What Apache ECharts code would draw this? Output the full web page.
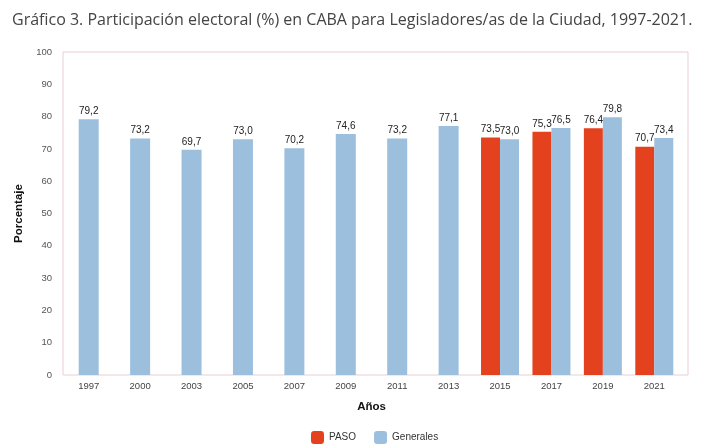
<!DOCTYPE html>
<html>
<head>
<meta charset="utf-8">
<script src="https://cdn.jsdelivr.net/npm/echarts@6/dist/echarts.min.js"></script>
<style>
  html, body { margin: 0; padding: 0; background: #fff; }
  #chart { width: 716px; height: 448px; }
</style>
</head>
<body>
<div id="chart"></div>
<script>
// datos
const years = ['1997', '2000', '2003', '2005', '2007', '2009', '2011', '2013', '2015', '2017', '2019', '2021']
const generales = [79.2, 73.2, 69.7, 73.0, 70.2, 74.6, 73.2, 77.1, 73.0, 76.5, 79.8, 73.4]
const paso = [null, null, null, null, null, null, null, null, 73.5, 75.3, 76.4, 70.7]
const yTicks = [0, 10, 20, 30, 40, 50, 60, 70, 80, 90, 100]

const RED = '#e4411f'
const BLUE = '#9cbfde'

// años sin PASO: barra sola centrada; años con PASO: par de barras
const genSolo = generales.map((v, i) => (paso[i] == null ? v : null))
const genPar = generales.map((v, i) => (paso[i] == null ? null : v))

const fmt = p => p.value.toFixed(1).replace('.', ',')
const lbl = {
  show: true,
  position: 'top',
  distance: 3,
  formatter: fmt,
  color: '#222',
  fontSize: 10,
  fontFamily: 'Arial, "Liberation Sans", sans-serif'
}

const chart = echarts.init(document.getElementById('chart'))
chart.setOption({
  animation: false,
  title: {
    text: 'Gráfico 3. Participación electoral (%) en CABA para Legisladores/as de la Ciudad, 1997-2021.',
    left: 7,
    top: 7,
    textStyle: { fontFamily: '"Open Sans", sans-serif', fontSize: 16, fontWeight: 'normal', color: '#444' }
  },
  legend: {
    data: ['PASO', 'Generales'],
    left: 306,
    top: 426,
    itemWidth: 13,
    itemHeight: 13,
    itemGap: 18,
    textStyle: { fontFamily: 'Arial, sans-serif', fontSize: 10, color: '#333' }
  },
  graphic: [
    {
      type: 'rect',
      shape: { x: 63, y: 52, width: 625, height: 323 },
      style: { fill: 'none', stroke: '#e9cfd3', lineWidth: 1 },
      z: 0
    }
  ],
  grid: { left: 63, top: 52, width: 617, height: 323 },
  xAxis: [
    {
      type: 'category',
      data: years,
      axisLine: { show: false },
      axisTick: { show: false },
      axisLabel: { color: '#444', fontSize: 9.5, fontFamily: 'Arial, sans-serif', margin: 6 },
      name: 'Años',
      nameLocation: 'middle',
      nameGap: 26,
      nameTextStyle: { fontWeight: 'bold', fontSize: 11.5, color: '#111', fontFamily: 'Arial, sans-serif' }
    },
    {
      type: 'category',
      data: years,
      show: false,
      position: 'bottom'
    }
  ],
  yAxis: {
    type: 'value',
    min: yTicks[0],
    max: yTicks[yTicks.length - 1],
    interval: 10,
    axisLine: { show: false },
    axisTick: { show: false },
    splitLine: { show: false },
    axisLabel: { color: '#555', fontSize: 9.5, fontFamily: 'Arial, sans-serif', margin: 11 },
    name: 'Porcentaje',
    nameLocation: 'middle',
    nameGap: 32,
    nameTextStyle: { fontWeight: 'bold', fontSize: 11.5, color: '#111', fontFamily: 'Arial, sans-serif' }
  },
  series: [
    {
      name: 'Generales',
      type: 'bar',
      xAxisIndex: 0,
      data: genSolo,
      barWidth: 20,
      itemStyle: { color: BLUE },
      label: lbl
    },
    {
      name: 'PASO',
      type: 'bar',
      xAxisIndex: 1,
      data: paso,
      barWidth: 19,
      barGap: '0%',
      itemStyle: { color: RED },
      label: lbl
    },
    {
      name: 'Generales',
      type: 'bar',
      xAxisIndex: 1,
      data: genPar,
      barWidth: 19,
      barGap: '0%',
      itemStyle: { color: BLUE },
      label: lbl
    }
  ]
})
</script>
</body>
</html>
